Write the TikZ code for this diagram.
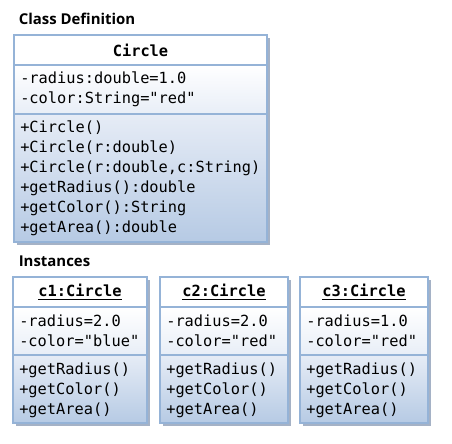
\documentclass[tikz,border=0pt]{standalone}
\usepackage{fontspec}
\setmainfont{Carlito}
\newfontfamily\headfont{Open Sans}
\newfontfamily\umlmono{DejaVu Sans Mono}
\definecolor{boxline}{RGB}{149,179,215}
\definecolor{shadowcol}{RGB}{165,178,198}
\definecolor{attrtop}{RGB}{255,255,255}
\definecolor{attrbot}{RGB}{232,238,247}
\definecolor{methtop}{RGB}{230,236,246}
\definecolor{methbot}{RGB}{182,202,228}
\newcommand\umlclass[6]{%
  \fill[shadowcol] (#1+3,#3+3) rectangle (#2+3,#6+3);
  \fill[white] (#1,#3) rectangle (#2,#4);
  \shade[top color=attrtop,bottom color=attrbot] (#1,#4) rectangle (#2,#5);
  \shade[top color=methtop,bottom color=methbot] (#1,#5) rectangle (#2,#6);
  \draw[boxborder] (#1,#3) rectangle (#2,#6);
  \draw[boxborder] (#1,#4) -- (#2,#4);
  \draw[boxborder] (#1,#5) -- (#2,#5);
}
\begin{document}
\begin{tikzpicture}[x=0.75pt,y=-0.75pt,
  boxborder/.style={draw=boxline,line width=1.2pt},
  heading/.style={anchor=west,inner sep=0pt,font=\headfont\fontsize{11.2}{13}\selectfont\bfseries},
  monotext/.style={anchor=west,inner sep=0pt,align=left,font=\umlmono\fontsize{11.5}{15}\selectfont},
  monotitle/.style={inner sep=0pt,font=\umlmono\fontsize{11.5}{15}\selectfont\bfseries}]
\useasboundingbox (0,0) rectangle (452,443);

\node[heading] (hdef) at (18.5,19) {Class Definition};
\umlclass{14}{267}{35}{65}{114}{242}
\node[monotitle] (ctitle) at (140.5,50) {Circle};
\node[monotext] (cattr) at (20,89.5) {-radius:double=1.0\\-color:String="red"};
\node[monotext] (cmeth) at (20,178) {+Circle()\\+Circle(r:double)\\+Circle(r:double,c:String)\\+getRadius():double\\+getColor():String\\+getArea():double};

\node[heading] (hinst) at (18.5,261) {Instances};
\umlclass{13}{147}{277}{307}{355}{423}
\node[monotitle] (t1) at (80,292) {\underline{c1:Circle}};
\node[monotext] (a1) at (19,331) {-radius=2.0\\-color="blue"};
\node[monotext] (m1) at (19,390) {+getRadius()\\+getColor()\\+getArea()};

\umlclass{160}{288}{277}{307}{355}{423}
\node[monotitle] (t2) at (224,292) {\underline{c2:Circle}};
\node[monotext] (a2) at (166,331) {-radius=2.0\\-color="red"};
\node[monotext] (m2) at (166,390) {+getRadius()\\+getColor()\\+getArea()};

\umlclass{300}{428}{277}{307}{355}{423}
\node[monotitle] (t3) at (364,292) {\underline{c3:Circle}};
\node[monotext] (a3) at (306,331) {-radius=1.0\\-color="red"};
\node[monotext] (m3) at (306,390) {+getRadius()\\+getColor()\\+getArea()};
\end{tikzpicture}
\end{document}
